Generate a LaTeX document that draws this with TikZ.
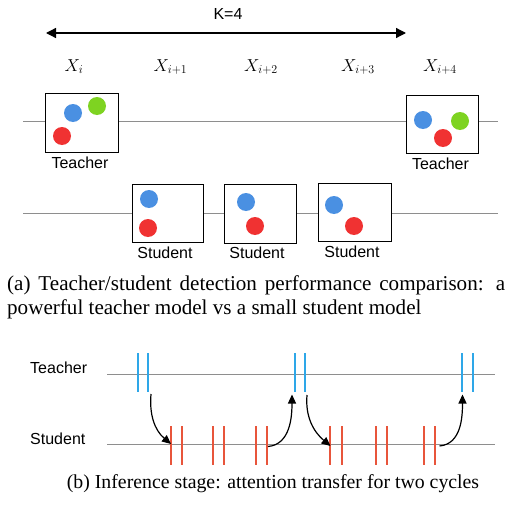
\documentclass[tikz,border=0pt]{standalone}
\usepackage{fontspec}
\setmainfont{Liberation Serif}
\setsansfont{Liberation Sans}
\usetikzlibrary{arrows.meta}
\definecolor{cblue}{HTML}{4A90E2}
\definecolor{cgreen}{HTML}{7ED321}
\definecolor{cred}{HTML}{F03232}
\definecolor{tblue}{HTML}{2EA7E8}
\definecolor{tred}{HTML}{E8553B}
\definecolor{lgray}{HTML}{8E8E8E}
\begin{document}
\begin{tikzpicture}[x=1pt,y=-1pt,
  timeline/.style={draw=lgray, line width=1pt},
  frame/.style={draw=black, line width=1pt, fill=white, minimum width=73pt, minimum height=59pt, inner sep=0pt},
  dot/.style={circle, inner sep=0pt, minimum size=18pt, fill=#1},
  lab/.style={font=\sffamily\fontsize{16}{19}\selectfont, inner sep=0pt},
  xlab/.style={font=\fontsize{18}{21}\selectfont, inner sep=0pt, anchor=base},
  tickb/.style={draw=tblue, line width=2pt},
  tickr/.style={draw=tred, line width=2pt},
  jump/.style={draw=black, line width=1.2pt, -{Triangle[length=9pt,width=8pt]}},
  captext/.style={font=\fontsize{21.1}{24}\selectfont, inner sep=0pt}]
\useasboundingbox (0,0) rectangle (512,506);

% ---------- (a) ----------
\node[lab, anchor=base] (K) at (228,19.5) {K=4};
\coordinate (kl) at (46,33);
\coordinate (kr) at (406,33);
\draw[line width=1.3pt, {Triangle[length=10pt,width=10pt]}-{Triangle[length=10pt,width=10pt]}] (kl) -- (kr);

\node[xlab] (x0) at (74,71) {$X_i$};
\node[xlab] (x1) at (170.5,71) {$X_{i+1}$};
\node[xlab] (x2) at (261,71) {$X_{i+2}$};
\node[xlab] (x3) at (358,71) {$X_{i+3}$};
\node[xlab] (x4) at (440,71) {$X_{i+4}$};

\coordinate (l1a) at (23,121);
\coordinate (l1b) at (498,121);
\draw[timeline] (l1a) -- (l1b);
\coordinate (l2a) at (23,213);
\coordinate (l2b) at (498,213);
\draw[timeline] (l2a) -- (l2b);

% teacher boxes
\node[frame] (T1) at (81.5,122.5) {};
\node[dot=cblue] (T1b) at (73,113) {};
\node[dot=cgreen] (T1g) at (97,106) {};
\node[dot=cred] (T1r) at (62,136) {};
\node[lab] (T1l) at (80,163) {Teacher};

\node[frame, minimum width=72pt, minimum height=58pt] (T2) at (442,124) {};
\node[dot=cblue] (T2b) at (423,120) {};
\node[dot=cgreen] (T2g) at (460,121) {};
\node[dot=cred] (T2r) at (443,138) {};
\node[lab] (T2l) at (440.5,164) {Teacher};

% student boxes
\node[frame, minimum width=71pt, minimum height=58pt] (S1) at (167.5,213) {};
\node[dot=cblue] (S1b) at (149,199) {};
\node[dot=cred] (S1r) at (148,228) {};
\node[lab] (S1l) at (165,253) {Student};

\node[frame, minimum width=72pt, minimum height=59pt] (S2) at (260,213.5) {};
\node[dot=cblue] (S2b) at (246,202) {};
\node[dot=cred] (S2r) at (255,226) {};
\node[lab] (S2l) at (257,253) {Student};

\node[frame, minimum width=73pt, minimum height=58pt] (S3) at (354.5,212) {};
\node[dot=cblue] (S3b) at (334,205) {};
\node[dot=cred] (S3r) at (354,226) {};
\node[lab] (S3l) at (352,252) {Student};

\node[captext, anchor=north west, text width=498pt, align=justify] (capa) at (7,275)
  {(a) Teacher/student detection performance comparison: a powerful teacher model vs a small student model};

% ---------- (b) ----------
\node[lab, anchor=base west] (bt) at (30,373) {Teacher};
\node[lab, anchor=base west] (bs) at (30,444) {Student};
\coordinate (tla) at (107,374);
\coordinate (tlb) at (495,374);
\coordinate (sla) at (107,444);
\coordinate (slb) at (495,444);
\draw[timeline] (tla) -- (tlb);
\draw[timeline] (sla) -- (slb);

\foreach \x in {137.5,148.3,294.5,305.2,462,472.5}
  \draw[tickb] (\x,353) -- (\x,392);
\foreach \x in {171,182.3,213.3,224.3,256,267.3,330.3,341.7,376.3,387.3,423.7,434.7}
  \draw[tickr] (\x,426) -- (\x,465);

\coordinate (a1s) at (151,394);
\coordinate (a1e) at (171,444);
\coordinate (a2s) at (268,446.5);
\coordinate (a2e) at (292,394.5);
\coordinate (a3s) at (307,395);
\coordinate (a3e) at (330.5,446);
\coordinate (a4s) at (439.5,446);
\coordinate (a4e) at (462.5,394.5);
\draw[jump] (a1s) to[out=-95,in=140] (a1e);
\draw[jump] (a2s) to[out=5,in=-90] (a2e);
\draw[jump] (a3s) to[out=-95,in=140] (a3e);
\draw[jump] (a4s) to[out=5,in=-90] (a4e);

\node[captext, anchor=base, font=\fontsize{19.8}{24}\selectfont] (capb) at (273,488)
  {(b) Inference stage: attention transfer for two cycles};
\end{tikzpicture}
\end{document}
